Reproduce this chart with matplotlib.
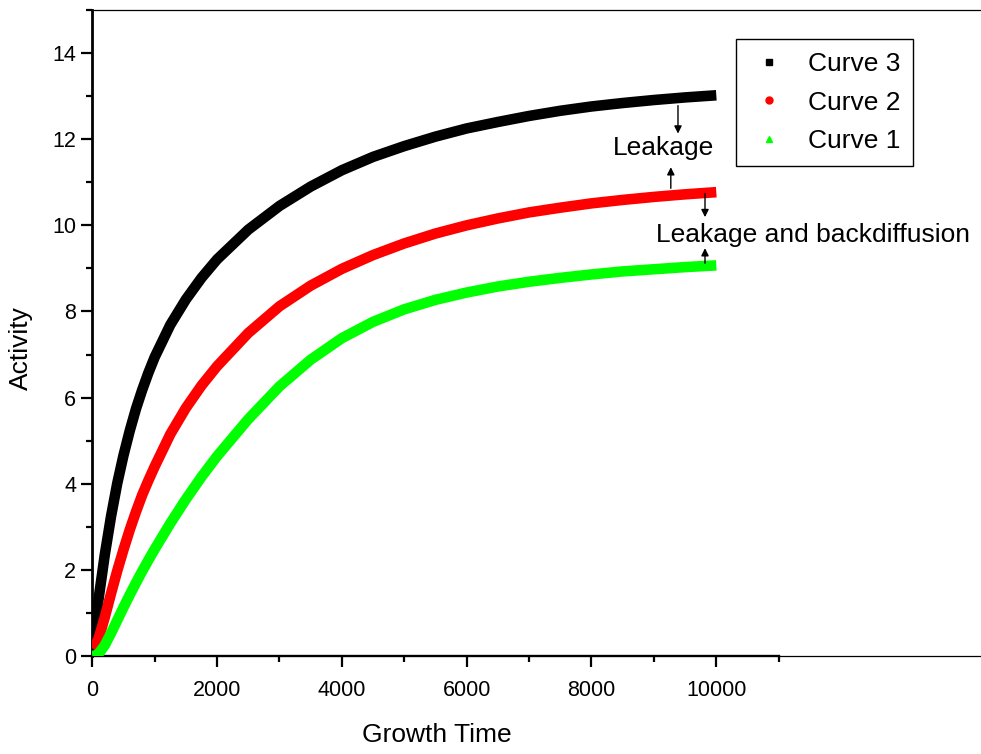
import matplotlib
matplotlib.use("Agg")
import matplotlib.pyplot as plt
from matplotlib.lines import Line2D

plt.rcParams['font.family'] = ['Liberation Sans', 'DejaVu Sans']

# growth time values
growth_time = [0, 50, 100, 200, 300, 400, 500, 600, 700, 800, 900, 1000,
               1250, 1500, 1750, 2000, 2500, 3000, 3500, 4000, 4500, 5000,
               5500, 6000, 6500, 7000, 7500, 8000, 8500, 9000, 9500, 10000]

# activity of each curve at the times above
curve3 = [0.1, 0.74, 1.32, 2.35, 3.24, 4.01, 4.66, 5.23, 5.74, 6.18, 6.58,
          6.94, 7.69, 8.28, 8.78, 9.21, 9.9, 10.45, 10.9, 11.28, 11.59,
          11.84, 12.06, 12.25, 12.4, 12.54, 12.66, 12.76, 12.84, 12.91,
          12.97, 13.02]
curve2 = [0.18, 0.26, 0.4, 0.9, 1.45, 1.98, 2.47, 2.93, 3.35, 3.74, 4.08,
          4.4, 5.15, 5.76, 6.28, 6.73, 7.5, 8.12, 8.6, 8.99, 9.31, 9.58,
          9.81, 10.0, 10.16, 10.3, 10.41, 10.51, 10.59, 10.66, 10.72, 10.77]
curve1 = [0.0, 0.01, 0.05, 0.25, 0.53, 0.83, 1.13, 1.42, 1.7, 1.97, 2.23,
          2.48, 3.08, 3.64, 4.16, 4.64, 5.5, 6.26, 6.88, 7.38, 7.76, 8.05,
          8.27, 8.44, 8.58, 8.69, 8.78, 8.86, 8.93, 8.98, 9.03, 9.07]

labels = ["Curve 3", "Curve 2", "Curve 1"]
colors = ["black", "red", "#00ff00"]
markers = ["s", "o", "^"]

xmajor = [0, 2000, 4000, 6000, 8000, 10000]
xminor = [1000, 3000, 5000, 7000, 9000, 11000]
ymajor = [0, 2, 4, 6, 8, 10, 12, 14]
yminor = [1, 3, 5, 7, 9, 11, 13, 15]

fig = plt.figure(figsize=(9.81, 7.54), dpi=100)
# left edge at x=0, right side runs off the figure like the original
ax = fig.add_axes([92.3 / 981, 98 / 754, 1 - 92.3 / 981, 646 / 754])
ax.set_xlim(0, 14242)
ax.set_ylim(0, 15)

for y, c in zip([curve3, curve2, curve1], colors):
    ax.plot(growth_time, y, color=c, lw=7.6, solid_capstyle='butt',
            solid_joinstyle='round', zorder=3)

# axes frame: thick left / bottom (to 11000), thin top and continuation
ax.spines['right'].set_visible(False)
ax.spines['left'].set_linewidth(2)
ax.spines['bottom'].set_linewidth(1.7)
ax.spines['bottom'].set_bounds(0, 11000)
ax.spines['top'].set_linewidth(0.9)
ax.plot([11000, 14242], [0, 0], color='black', lw=0.9, clip_on=False,
        zorder=2)

ax.set_xticks(xmajor)
ax.set_xticks(xminor, minor=True)
ax.set_yticks(ymajor)
ax.set_yticks(yminor, minor=True)
ax.tick_params(which='major', direction='out', length=8, width=1.6,
               labelsize=15.5, top=False, right=False)
ax.tick_params(which='minor', direction='out', length=4, width=1.6,
               top=False, right=False)
ax.tick_params(axis='x', which='major', pad=9)
ax.tick_params(axis='y', which='major', pad=3.5)

fig.text(437 / 981, 1 - 735 / 754, "Growth Time", fontsize=19,
         ha='center', va='center')
fig.text(21 / 981, 1 - 348 / 754, "Activity", fontsize=19,
         ha='center', va='center', rotation=90)

# annotations
arrow = dict(arrowstyle='-|>', color='black', lw=1, mutation_scale=11,
             shrinkA=0, shrinkB=0)
ax.annotate("", xy=(9386, 12.13), xytext=(9386, 12.78), arrowprops=arrow)
ax.annotate("", xy=(9271, 11.35), xytext=(9271, 10.86), arrowprops=arrow)
ax.text(9146, 11.79, "Leakage", fontsize=19, ha='center', va='center')
ax.annotate("", xy=(9819, 10.19), xytext=(9819, 10.74), arrowprops=arrow)
ax.annotate("", xy=(9819, 9.47), xytext=(9819, 9.12), arrowprops=arrow)
ax.text(11542, 9.77, "Leakage and backdiffusion", fontsize=19,
        ha='center', va='center', clip_on=False)

handles = [Line2D([], [], ls='none', marker=m, color=c, markersize=5)
           for m, c in zip(markers, colors)]
leg = ax.legend(handles, labels, loc='upper left',
                bbox_to_anchor=(736 / 981, 1 - 39 / 754),
                bbox_transform=fig.transFigure, borderaxespad=0,
                fontsize=19, frameon=True, fancybox=False,
                edgecolor='black', framealpha=1, borderpad=0.5,
                handlelength=1.5, handletextpad=0.72, labelspacing=0.55)
leg.get_frame().set_linewidth(1)

fig.savefig("out.png", dpi=100)
